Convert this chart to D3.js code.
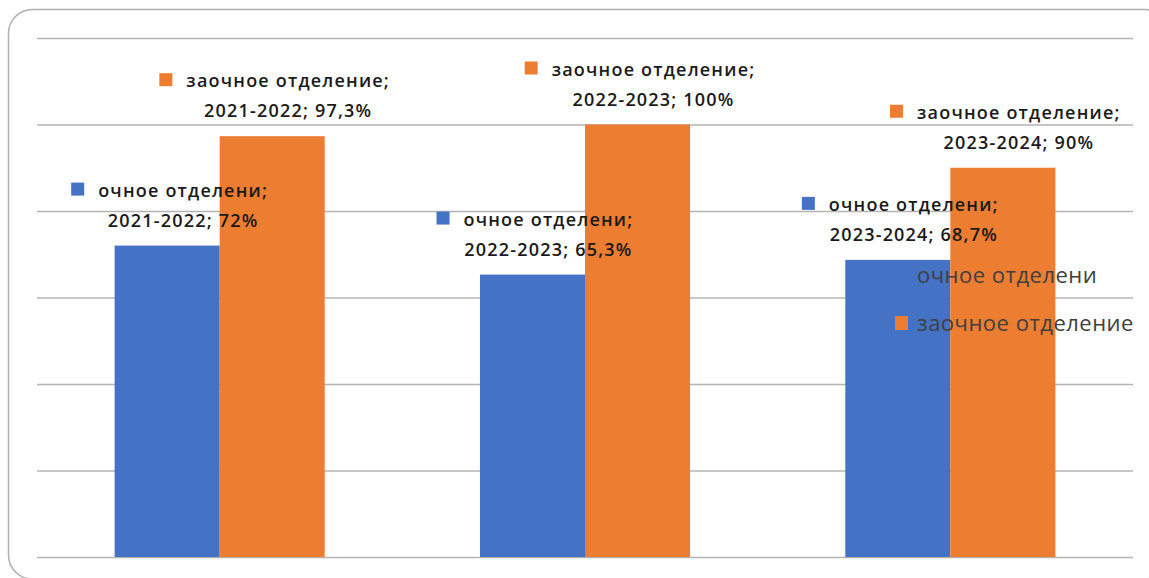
<!DOCTYPE html>
<html><head><meta charset="utf-8">
<script src="https://cdn.jsdelivr.net/npm/d3@7"></script>
<style>html,body{margin:0;padding:0;background:#fff;}svg{display:block;}</style>
</head><body>
<svg id="c" width="1149" height="578"></svg>
<script>
const categories = ["2021-2022", "2022-2023", "2023-2024"];
const seriesNames = ["очное отделени", "заочное отделение"];
const fullTime = [72, 65.3, 68.7];
const partTime = [97.3, 100, 90];
const valueLabels = [["72%", "65,3%", "68,7%"], ["97,3%", "100%", "90%"]];
const yTicks = [0, 20, 40, 60, 80, 100, 120];
const colors = ["#4472C4", "#ED7D31"];

const svg = d3.select("#c");
const plot = {left: 37, right: 1133, top: 38, bottom: 557};

svg.append("rect").attr("x", 8.5).attr("y", 9.5).attr("width", 1160).attr("height", 569.5)
  .attr("rx", 24).attr("fill", "#fff").attr("stroke", "#b0b0b0").attr("stroke-width", 1.5);

const x = d3.scaleBand().domain(categories).range([plot.left, plot.right]).paddingInner(0.425).paddingOuter(0.2125);
const xs = d3.scaleBand().domain([0, 1]).range([0, x.bandwidth()]).padding(0);
const y = d3.scaleLinear().domain([0, 120]).range([plot.bottom, plot.top]);

const gAxis = svg.append("g").attr("transform", `translate(${plot.left},0)`)
  .call(d3.axisLeft(y).tickValues(yTicks).tickSize(-(plot.right - plot.left)).tickFormat(""));
gAxis.select(".domain").remove();
gAxis.selectAll(".tick line").attr("stroke", "#b4b4b4").attr("stroke-width", 1.6);

const series = [fullTime, partTime];
const bars = [];
series.forEach((vals, si) => {
  vals.forEach((v, ci) => bars.push({si, ci, v, cat: categories[ci]}));
});

svg.append("g").selectAll("rect").data(bars).join("rect")
  .attr("x", d => x(d.cat) + xs(d.si))
  .attr("y", d => y(d.v))
  .attr("width", xs.bandwidth())
  .attr("height", d => y(0) - y(d.v))
  .attr("fill", d => colors[d.si]);

// legend
const lg = svg.append("g");
seriesNames.forEach((n, i) => {
  const ly = 283 + i * 48;
  lg.append("rect").attr("x", 895).attr("y", ly - 15).attr("width", 13).attr("height", 14).attr("fill", colors[i]);
  lg.append("text").attr("x", 917).attr("y", ly).text(n)
    .attr("font-family", "Open Sans").attr("font-size", 22).attr("fill", "#404040")
    .attr("letter-spacing", 0.5);
});

// data labels
const lab = svg.append("g").attr("font-family", "Open Sans").attr("font-size", 18)
  .attr("font-weight", 600).attr("fill", "#1a1a1a").attr("letter-spacing", 1.2);
bars.forEach(d => {
  const cx = x(d.cat) + xs(d.si) + xs.bandwidth() / 2 + 16;
  const top = y(d.v);
  const t1 = lab.append("text").attr("x", cx).attr("y", top - 49).attr("text-anchor", "middle")
    .text(seriesNames[d.si] + ";");
  lab.append("text").attr("x", cx).attr("y", top - 19).attr("text-anchor", "middle")
    .text(d.cat + "; " + valueLabels[d.si][d.ci]);
  const w = t1.node().getComputedTextLength();
  lab.append("rect").attr("x", cx - w / 2 - 27).attr("y", top - 63).attr("width", 13).attr("height", 13)
    .attr("fill", colors[d.si]);
});
</script>
</body></html>
